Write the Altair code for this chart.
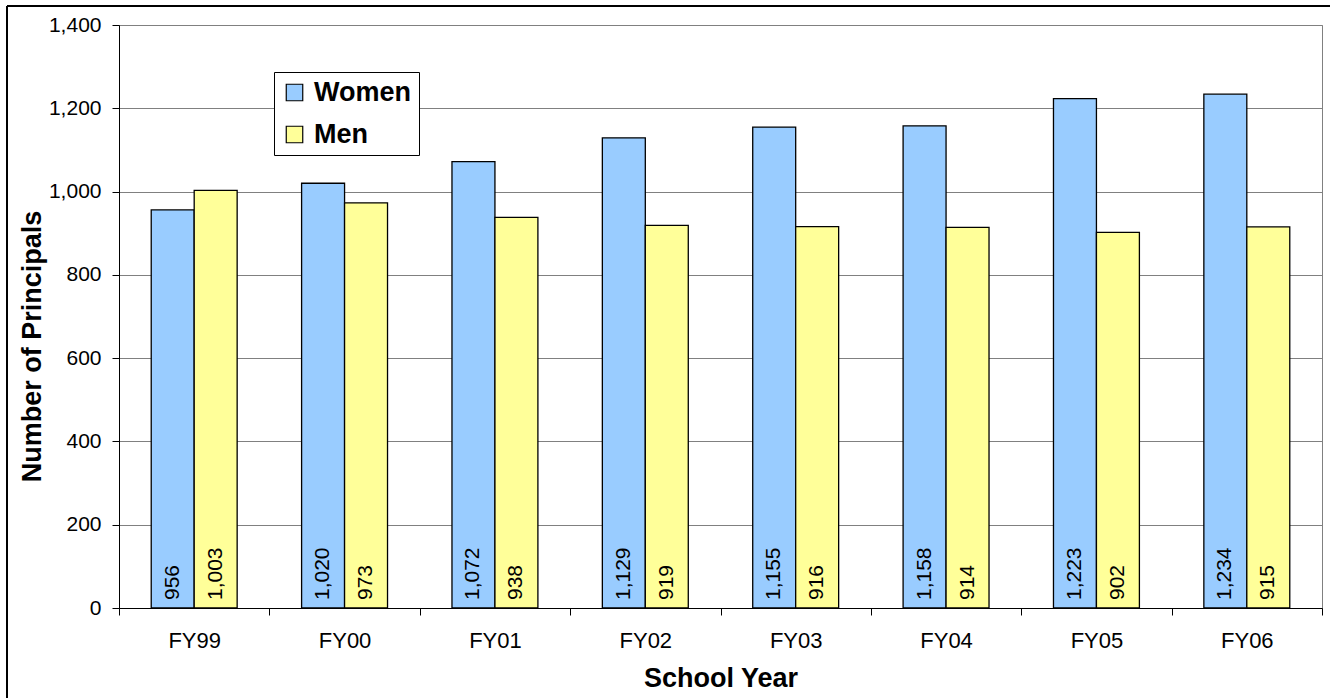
import altair as alt
import pandas as pd

# School years and principal head counts by gender
years = ["FY99", "FY00", "FY01", "FY02", "FY03", "FY04", "FY05", "FY06"]
women = [956, 1020, 1072, 1129, 1155, 1158, 1223, 1234]
men = [1003, 973, 938, 919, 916, 914, 902, 915]
groups = ["Women", "Men"]
colors = ["#99CCFF", "#FFFF99"]
y_ticks = [0, 200, 400, 600, 800, 1000, 1200, 1400]

rows = []
for yr, w, m in zip(years, women, men):
    rows.append({"year": yr, "group": "Women", "count": w})
    rows.append({"year": yr, "group": "Men", "count": m})
df = pd.DataFrame(rows)

FONT = "Liberation Sans"

x_enc = alt.X(
    "year:N",
    sort=years,
    scale=alt.Scale(paddingInner=0, paddingOuter=0),
    axis=alt.Axis(
        title="School Year",
        labelAngle=0,
        labelFontSize=22,
        labelColor="black",
        labelPadding=15,
        tickBand="extent",
        tickSize=7,
        tickColor="black",
        domainColor="black",
        grid=False,
        titleFontSize=27,
        titleFontWeight="bold",
        titleColor="black",
        titleBaseline="alphabetic",
        titleY=78,
    ),
)
xoff_enc = alt.XOffset(
    "group:N",
    sort=groups,
    scale=alt.Scale(paddingInner=0, paddingOuter=0.75),
)

bars = alt.Chart(df).mark_bar(stroke="black", strokeWidth=1.3, opacity=1).encode(
    x=x_enc,
    xOffset=xoff_enc,
    y=alt.Y(
        "count:Q",
        scale=alt.Scale(domain=[0, 1400], nice=False),
        axis=alt.Axis(
            title="Number of Principals",
            values=y_ticks,
            format=",.0f",
            labelFontSize=21,
            labelColor="black",
            labelPadding=11,
            tickSize=7,
            tickColor="black",
            domainColor="black",
            gridColor="#808080",
            titleFontSize=27,
            titleFontWeight="bold",
            titleColor="black",
            titleAngle=270,
            titleAlign="center",
            titleBaseline="alphabetic",
            titleX=-79,
            titleY=321,
        ),
    ),
    color=alt.Color(
        "group:N",
        sort=groups,
        scale=alt.Scale(domain=groups, range=colors),
        legend=alt.Legend(
            title=None,
            orient="none",
            legendX=155,
            legendY=47,
            symbolType="square",
            symbolSize=272,
            symbolStrokeColor="black",
            symbolStrokeWidth=1.2,
            symbolOpacity=1,
            labelFontSize=27,
            labelFontWeight="bold",
            labelColor="black",
            labelOffset=6,
            labelLimit=400,
            strokeColor="black",
            fillColor="white",
            padding=7,
            rowPadding=14,
        ),
    ),
)

labels = alt.Chart(df).mark_text(
    angle=270, align="left", baseline="middle", dx=8, fontSize=21, color="black"
).encode(
    x=alt.X("year:N", sort=years),
    xOffset=alt.XOffset("group:N", sort=groups),
    y=alt.datum(0),
    text=alt.Text("count:Q", format=",.0f"),
)

# Frame around the whole chart (left and top edges)
frame_left = alt.Chart(df).mark_rule(color="black", strokeWidth=1.5).encode(
    x=alt.value(-112), y=alt.value(-19), y2=alt.value(700)
)
frame_top = alt.Chart(df).mark_rule(color="black", strokeWidth=1.5).encode(
    x=alt.value(-112), x2=alt.value(1320), y=alt.value(-19)
)

chart = (
    alt.layer(bars, labels, frame_left, frame_top)
    .properties(
        width=1203,
        height=583,
        autosize=alt.AutoSizeParams(type="none"),
        padding={"left": 119, "top": 25, "right": 8, "bottom": 90},
    )
    .configure(font=FONT)
    .configure_view(stroke="#808080", strokeWidth=1)
)

chart.save("out.html", embed_options={"renderer": "svg", "actions": False})
